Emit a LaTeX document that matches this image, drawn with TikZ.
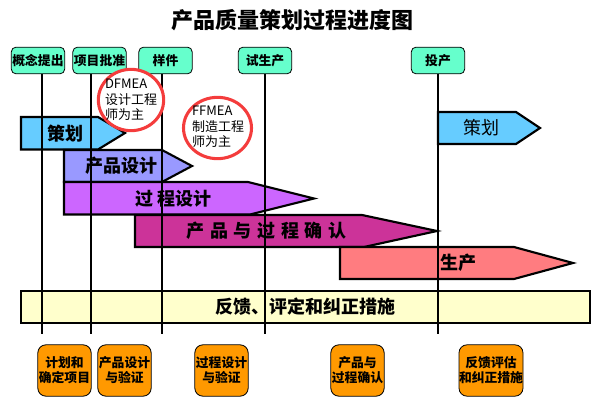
\documentclass[tikz,border=0pt]{standalone}
\usepackage{fontspec}
\setmainfont{Noto Sans CJK SC}
\usetikzlibrary{shapes.geometric}
\definecolor{gatecol}{HTML}{66FFCC}
\definecolor{taskcol}{HTML}{FF9900}
\definecolor{plancol}{HTML}{66CCFF}
\definecolor{designcol}{HTML}{9999FF}
\definecolor{processcol}{HTML}{CC66FF}
\definecolor{validcol}{HTML}{CC3399}
\definecolor{prodcol}{HTML}{FF7C80}
\definecolor{fbcol}{HTML}{FFFFCC}
\definecolor{ringcol}{HTML}{F43C3C}
\tikzset{
  gate/.style={draw,rounded corners=3.5pt,fill=gatecol,line width=0.6pt,minimum width=40pt,minimum height=20pt,inner sep=0pt,font=\bfseries\fontsize{9.6}{11}\selectfont},
  task/.style={draw,rounded corners=6pt,fill=taskcol,line width=0.6pt,minimum width=40pt,minimum height=38.5pt,inner sep=0pt,align=center,font=\bfseries\fontsize{9.6}{11.25}\selectfont},
  bar/.style={draw,line width=1.6pt,miter limit=10},
  barlabel/.style={inner sep=0pt,font=\bfseries\fontsize{13.5}{15}\selectfont},
  timeline/.style={line width=1.5pt},
  ring/.style={draw=ringcol,fill=white,ellipse,line width=2.3pt,inner sep=0pt},
  ringlabel/.style={inner sep=0pt,align=left,font=\fontsize{9.75}{11.6}\selectfont},
}
\begin{document}
\begin{tikzpicture}[x=0.75pt,y=-0.75pt]
\useasboundingbox (0,0) rectangle (604,410);

\node[inner sep=0pt,font=\bfseries\fontsize{16.5}{20}\selectfont] (title) at (292.5,20) {产品质量策划过程进度图};

% milestones
\node[gate] (gate1) at (38,60.5) {概念提出};
\node[gate] (gate2) at (99.5,60.5) {项目批准};
\node[gate] (gate3) at (165.5,60.5) {样件};
\node[gate] (gate4) at (265,60.5) {试生产};
\node[gate] (gate5) at (438,60.5) {投产};

% bars
\draw[bar,fill=plancol] (21,117) -- (98,117) -- (125,133) -- (98,149.5) -- (21,149.5) -- cycle;
\draw[bar,fill=plancol] (438,112) -- (516,112) -- (540,128) -- (516,144) -- (438,144) -- cycle;
\draw[bar,fill=designcol] (64,150) -- (162,150) -- (192,166) -- (162,182) -- (64,182) -- cycle;
\draw[bar,fill=processcol] (64,182) -- (248,182) -- (314,198.5) -- (250,214.5) -- (64,214.5) -- cycle;
\draw[bar,fill=validcol] (135,215) -- (362,215) -- (437,231) -- (364,247) -- (135,247) -- cycle;
\draw[bar,fill=prodcol] (340,247) -- (514,247) -- (573,263) -- (514,279) -- (340,279) -- cycle;
\draw[bar,fill=fbcol] (21,291) rectangle (590,323);

% timelines run over the bars
\coordinate (end1) at (42,334);
\coordinate (end2) at (91,334);
\coordinate (end3) at (162,334);
\coordinate (end4) at (265,334);
\coordinate (end5) at (438,334);
\foreach \i in {1,...,5}
  \draw[timeline] (gate\i.south -| end\i) -- (end\i);

\node[barlabel] (plan1) at (65,134) {策划};
\node[barlabel,font=\fontsize{13.5}{15}\selectfont] (plan2) at (481.5,128) {策划};
\node[barlabel] (design) at (121,166) {产品设计};
\node[barlabel] (process) at (173.5,199) {过 程设计};
\node[barlabel] (valid) at (266.5,231) {\spaceskip=4.2pt\relax 产 品 与 过 程 确 认};
\node[barlabel] (prod) at (458.5,263) {生产};
\node[barlabel] (feedback) at (305,307) {反馈、评定和纠正措施};

% notes
\node[ring,minimum width=49pt,minimum height=46pt] (ring1) at (131,100) {};
\node[ring,minimum width=51pt,minimum height=46pt] (ring2) at (217.5,128) {};
\node[ringlabel] (note1) at (131,100) {DFMEA\\设计工程\\师为主};
\node[ringlabel] (note2) at (218,127) {FFMEA\\制造工程\\师为主};

% tasks
\node[task] (task1) at (64.5,370.5) {计划和\\确定项目};
\node[task] (task2) at (124.5,370.5) {产品设计\\与验证};
\node[task] (task3) at (221.5,370.5) {过程设计\\与验证};
\node[task] (task4) at (357.5,370.5) {产品与\\过程确认};
\node[task,minimum width=46.5pt] (task5) at (491,370.5) {反馈评估\\和纠正措施};
\end{tikzpicture}
\end{document}
